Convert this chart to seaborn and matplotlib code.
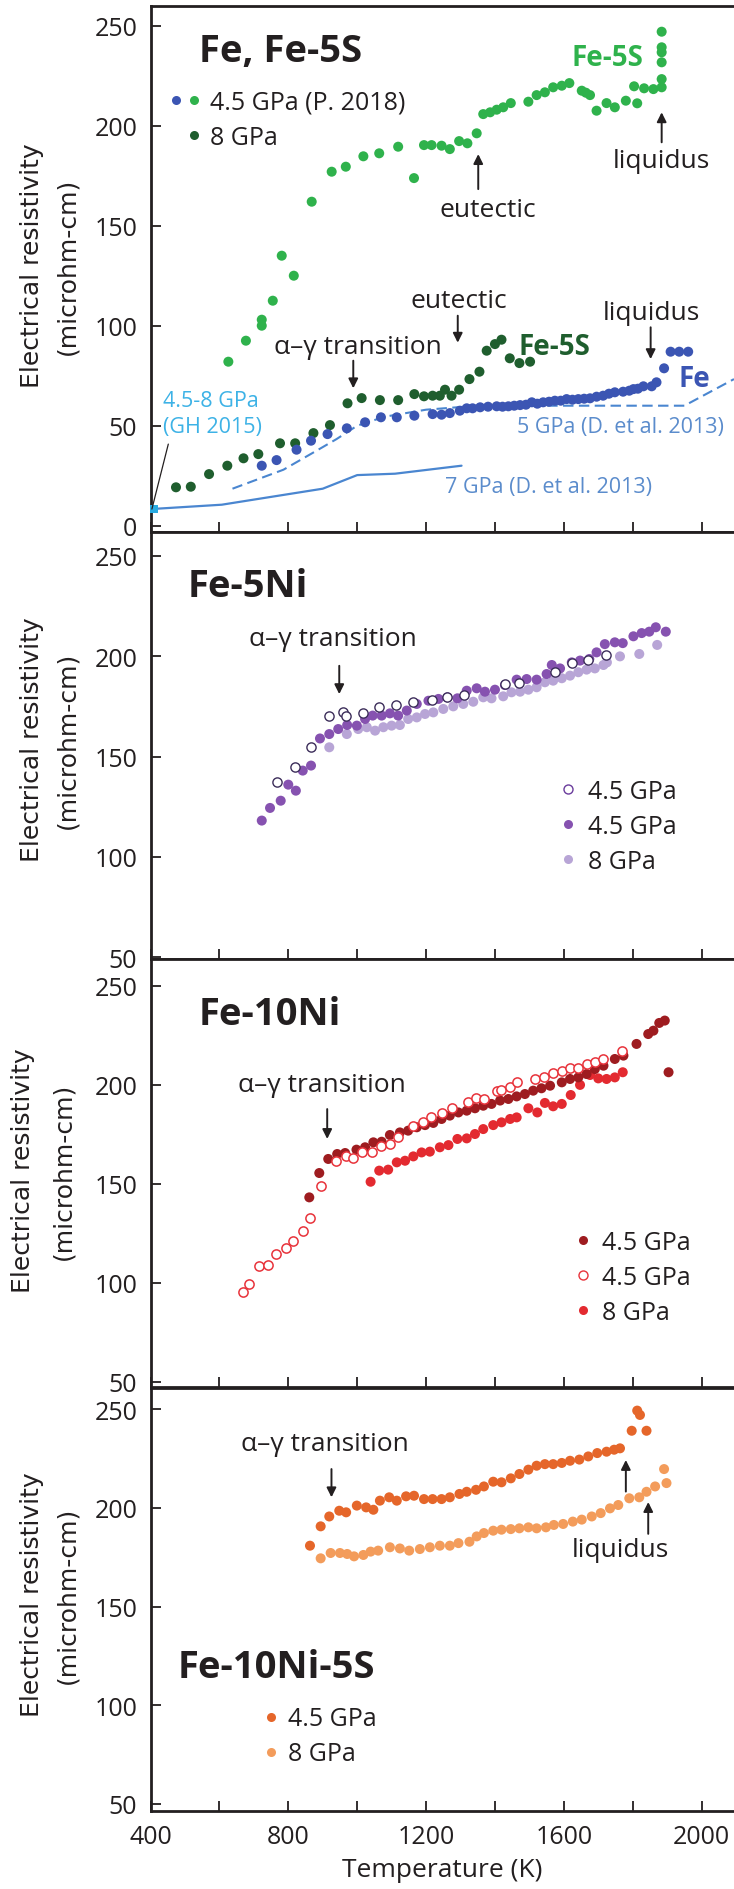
import matplotlib
matplotlib.use("Agg")
import matplotlib.pyplot as plt
import seaborn as sns
from matplotlib.lines import Line2D
from matplotlib.legend_handler import HandlerTuple

# ---------------- data (temperature in K, resistivity in microhm-cm) ----------------
# Panel 1: Fe, Fe-5S
fe5s_45_T = [626, 677, 723, 723, 755, 781, 816, 868, 926, 967, 1018, 1064, 1119, 1165, 1194, 1216, 1245, 1269,
             1296, 1320, 1347, 1366, 1386, 1405, 1424, 1446, 1497, 1521, 1545, 1569, 1594, 1616, 1652, 1664,
             1676, 1695, 1724, 1748, 1780, 1804, 1813, 1833, 1860, 1884, 1884, 1884, 1884, 1884, 1884]
fe5s_45_R = [82, 92.5, 100, 103, 112.5, 135, 125, 162, 177, 179.5, 184.7, 186.2, 189.5, 173.8, 190.3, 190.3,
             190, 188.3, 192.3, 191.2, 196.2, 205.8, 206.7, 208, 209.2, 211.3, 212, 215.3, 216.7, 219.2, 220,
             221.3, 217.5, 216.5, 215.3, 207.5, 211.3, 209.2, 212.5, 219.7, 211.2, 218.7, 218.3, 219.2, 223.3,
             231.7, 236.7, 239.2, 247]
fe5s_8_T = [474, 517, 570, 623, 670, 713, 776, 820, 873, 921, 972, 1013, 1066, 1119, 1166, 1194, 1219, 1240,
            1255, 1274, 1296, 1326, 1355, 1376, 1400, 1419, 1443, 1471, 1502]
fe5s_8_R = [19.2, 19.5, 25.8, 30, 33.7, 35.8, 41.2, 41.2, 46.3, 50.3, 61.2, 63.8, 62.8, 62.8, 65.8, 64.7, 65,
            65, 68, 65, 68, 73.3, 77, 87.5, 90.8, 93, 83.7, 81.3, 82]
fe_45_T = [723, 766, 824, 866, 914, 970, 1023, 1069, 1115, 1166, 1219, 1245, 1269, 1298, 1318, 1335, 1357,
           1380, 1405, 1422, 1439, 1456, 1473, 1490, 1507, 1523, 1540, 1557, 1574, 1591, 1608, 1625, 1642,
           1659, 1676, 1695, 1714, 1731, 1748, 1772, 1790, 1802, 1815, 1831, 1855, 1869, 1891, 1910, 1935, 1961]
fe_45_R = [30, 32.8, 38, 42.5, 45.8, 48.7, 51.7, 54.2, 54.2, 55, 55.8, 55.5, 56.3, 57.5, 58.7, 58.7, 59.2,
           59.5, 59.7, 59.5, 59.7, 60, 60.3, 60.5, 61.7, 61, 61.7, 62, 62.5, 62.5, 63.3, 63, 63.3, 63.5, 63.7,
           64.5, 65, 66, 66.7, 67, 67.5, 68.3, 68.5, 69.7, 69.7, 71.7, 78.7, 87, 87, 87]
d5_T = [638, 786, 882, 940, 1000, 1080, 1200, 1350, 1950, 2094]
d5_R = [18.5, 28, 37.5, 43.3, 50, 54.5, 58, 60, 60, 73.3]
d7_T = [400, 607, 680, 900, 1000, 1110, 1303]
d7_R = [8.3, 10.5, 12.5, 18.5, 25.3, 26, 30]
gh_T = [410]
gh_R = [8.3]

# Panel 2: Fe-5Ni
fe5ni_45f_T = [723, 747, 778, 800, 822, 842, 866, 892, 919, 945, 971, 999, 1023, 1045, 1071, 1095, 1119, 1144,
               1173, 1207, 1236, 1262, 1291, 1318, 1347, 1371, 1400, 1429, 1463, 1492, 1521, 1550, 1565, 1589,
               1623, 1647, 1674, 1695, 1719, 1748, 1771, 1802, 1826, 1848, 1867, 1896]
fe5ni_45f_R = [118.1, 124.4, 128, 136, 133, 143, 145.5, 159, 161.2, 163.7, 165.7, 165.4, 168.7, 170.4, 170.4,
               171.5, 170.4, 172.9, 176.2, 177.8, 178.7, 179.5, 179, 182.8, 184, 182.3, 183.3, 185.6, 188.3,
               188.6, 188.3, 191.1, 195.6, 193.9, 196.9, 197.8, 198.6, 201.9, 206, 206.9, 206.5, 209.9, 211.5,
               212.2, 214.4, 212.2]
fe5ni_45o_T = [766, 820, 865, 919, 960, 968, 1016, 1064, 1113, 1163, 1216, 1262, 1310, 1429, 1471, 1574, 1623,
               1671, 1721]
fe5ni_45o_R = [137.2, 144.6, 154.6, 170.4, 172, 170.4, 171.5, 174.5, 175.7, 177, 178.2, 179.5, 180.6, 186.1,
               186.6, 192.3, 196.6, 198.3, 200.6]
fe5ni_8_T = [919, 970, 1003, 1028, 1052, 1076, 1100, 1124, 1148, 1173, 1197, 1221, 1250, 1279, 1308, 1337, 1366,
             1390, 1424, 1448, 1473, 1497, 1521, 1545, 1569, 1594, 1618, 1642, 1666, 1690, 1715, 1725, 1763,
             1819, 1871]
fe5ni_8_R = [154.6, 161.2, 163.7, 164.6, 162.9, 164.6, 165.4, 165.7, 168.7, 169.5, 171.2, 172, 173.7, 175,
             176.2, 177.3, 179.5, 179, 180, 182, 182.3, 183.3, 184.5, 187, 187.8, 189, 190.3, 192, 193.3, 193.9,
             195.6, 196.9, 199.9, 201.1, 205.6]

# Panel 3: Fe-10Ni
fe10ni_45o_T = [669, 687, 716, 742, 764, 793, 815, 842, 863, 895, 938, 967, 989, 1013, 1042, 1068, 1095, 1119,
                1163, 1192, 1213, 1245, 1274, 1323, 1345, 1368, 1405, 1419, 1445, 1465, 1516, 1542, 1569, 1594,
                1618, 1642, 1666, 1690, 1713, 1768]
fe10ni_45o_R = [95.5, 99.3, 108.2, 108.9, 114.5, 117.3, 121.2, 125.9, 132.5, 149, 161.6, 164.2, 162.8, 165.8,
                166.2, 169.2, 170, 173.4, 179, 181, 183.5, 185.7, 188.1, 191.4, 193.1, 192.8, 197, 197.5, 198.7,
                201.2, 202.9, 203.7, 205.9, 207.1, 208.3, 208.3, 210.5, 211.3, 213, 217.2]
fe10ni_45f_T = [861, 890, 916, 942, 965, 998, 1023, 1047, 1071, 1095, 1124, 1148, 1173, 1197, 1221, 1245, 1269,
                1294, 1318, 1342, 1366, 1390, 1415, 1439, 1463, 1487, 1511, 1535, 1560, 1594, 1618, 1642, 1666,
                1690, 1715, 1748, 1773, 1811, 1845, 1860, 1877, 1893, 1904]
fe10ni_45f_R = [143.1, 155.4, 162.5, 165, 165.5, 167.2, 168.4, 170.9, 171.2, 174.6, 175.9, 176.8, 178.5, 179.6,
                180.7, 182.7, 184.4, 186, 186.9, 188.1, 189.4, 190.3, 192, 192.8, 194.1, 195.3, 197, 198.2,
                199.5, 201.2, 202.9, 203.7, 205.4, 207.9, 209.6, 213, 214.7, 220.6, 225.6, 227.3, 231.2, 232.4,
                206.3]
fe10ni_8_T = [1039, 1064, 1090, 1115, 1139, 1163, 1187, 1211, 1240, 1265, 1291, 1318, 1342, 1366, 1395, 1419,
              1444, 1463, 1497, 1523, 1545, 1569, 1594, 1620, 1647, 1676, 1700, 1724, 1748, 1771]
fe10ni_8_R = [151, 156.6, 157.1, 160.8, 161.6, 163.8, 165.8, 166.2, 168.4, 169.5, 172.6, 172.9, 175.1, 177.6,
              179.6, 181, 182.7, 183.5, 188.1, 186, 190.8, 189.1, 190.3, 194.8, 199.9, 204.9, 203.2, 202.9,
              203.7, 206.3]

# Panel 4: Fe-10Ni-5S
fe10ni5s_45_T = [863, 894, 919, 948, 968, 999, 1026, 1047, 1066, 1093, 1115, 1142, 1165, 1194, 1219, 1245, 1269,
                 1297, 1318, 1345, 1368, 1395, 1419, 1446, 1471, 1497, 1521, 1545, 1569, 1594, 1618, 1645, 1671,
                 1697, 1724, 1746, 1763, 1797, 1813, 1821, 1840]
fe10ni5s_45_R = [180.8, 190.6, 195.6, 198.5, 197.7, 201.1, 200.2, 199, 203.6, 205.3, 203.6, 205.8, 206.1, 204.4,
                 204.4, 204.4, 205.3, 207, 208.1, 209.1, 210.8, 213.2, 212.9, 214.9, 217.1, 219.3, 221.3, 222.1,
                 222.1, 222.7, 223.8, 224.4, 226, 227.7, 228.4, 229.4, 230.1, 239, 249.2, 247, 239]
fe10ni5s_8_T = [894, 923, 950, 971, 991, 1018, 1039, 1061, 1095, 1124, 1151, 1182, 1211, 1240, 1269, 1294, 1326,
                1347, 1368, 1395, 1419, 1446, 1471, 1497, 1521, 1548, 1571, 1598, 1626, 1652, 1681, 1707, 1734,
                1758, 1790, 1819, 1840, 1865, 1898, 1891]
fe10ni5s_8_R = [174.4, 177.1, 177.1, 176.6, 175.4, 176.1, 177.8, 178.3, 180, 179.4, 178.3, 179.1, 180, 180.8,
                180.8, 182.1, 182.8, 185.5, 187.2, 188.4, 188.9, 189.2, 189.6, 190.1, 189.6, 190.1, 191.3, 191.8,
                193, 194, 195.6, 197.3, 199.7, 201.4, 204.8, 205.3, 208.1, 210.8, 212.5, 219.6]

x_ticks = [400, 600, 800, 1000, 1200, 1400, 1600, 1800, 2000]
x_ticklabels = ["400", "", "800", "", "1200", "", "1600", "", "2000"]
y_ticks_top = [0, 50, 100, 150, 200, 250]
y_ticks = [50, 100, 150, 200, 250]

# ---------------- styling ----------------
sns.set_theme(style="white")
plt.rcParams["font.family"] = ["Open Sans", "DejaVu Sans"]
plt.rcParams["axes.unicode_minus"] = False

INK = "#231f20"
C_GREEN, C_DKGREEN, C_BLUE = "#2fb24c", "#1f5e2e", "#3b55b3"
C_DLINE, C_DTEXT, C_CYAN = "#4a86d0", "#5b8ccc", "#3db2e6"
C_PURP, C_LPURP, C_OPURP = "#8652b0", "#b8a5d6", "#3c2d5a"
C_DRED, C_RED, C_ORED = "#9e1c20", "#e32a30", "#e8333b"
C_DORG, C_LORG = "#e5662a", "#f39c5b"
S = 52

W, H = 734, 1890
fig = plt.figure(figsize=(W / 100, H / 100), dpi=100)
fig.patch.set_facecolor("white")


def add_axes(top_px, bottom_px):
    return fig.add_axes([150.5 / W, 1 - bottom_px / H, (W - 150.5) / W, (bottom_px - top_px) / H])


ax1 = add_axes(7.3, 532.7)
ax2 = add_axes(532.7, 960)
ax3 = add_axes(960, 1387.7)
ax4 = add_axes(1389.3, 1811.7)


def style(ax, ylim, yticks, xlabels):
    ax.set_xlim(400, 2094)
    ax.set_ylim(*ylim)
    ax.set_yticks(yticks)
    ax.set_xticks(x_ticks)
    ax.set_xticklabels(x_ticklabels)
    ax.tick_params(axis="both", direction="in", length=7, width=1.3, color=INK,
                   labelsize=18, labelcolor=INK, pad=9.5)
    ax.tick_params(axis="x", labelbottom=xlabels, bottom=True)
    ax.tick_params(axis="y", left=True)
    for s in ("top", "bottom", "left"):
        ax.spines[s].set_linewidth(2.0)
        ax.spines[s].set_color(INK)
    ax.spines["right"].set_visible(False)
    ax.set_xlabel("")
    ax.set_ylabel("")
    ax.set_facecolor("white")


def dots(ax, T, R, color, edge="none", lw=0, z=3, s=S):
    sns.scatterplot(x=T, y=R, ax=ax, color=color, edgecolor=edge, linewidth=lw, s=s,
                    legend=False, zorder=z, clip_on=False)


def note(ax, s, x, y, size=19, color=INK, weight="normal", ha="center", va="baseline"):
    ax.text(x, y, s, fontsize=size, color=color, fontweight=weight, ha=ha, va=va, zorder=6)


def arrow(ax, x, y_from, y_to):
    ax.annotate("", xy=(x, y_to), xytext=(x, y_from),
                arrowprops=dict(arrowstyle="-|>", color=INK, lw=1.4, mutation_scale=14,
                                shrinkA=0, shrinkB=0), zorder=6)


def mk(color, edge=None, ms=6.5):
    return Line2D([], [], ls="none", marker="o", ms=ms, mfc=color,
                  mec=edge if edge else color, mew=1.0 if edge else 0)


# ---------------- panel 1 ----------------
style(ax1, (-3, 259.7), y_ticks_top, False)
sns.lineplot(x=d7_T, y=d7_R, ax=ax1, color=C_DLINE, lw=1.6, estimator=None, sort=False, zorder=2)
sns.lineplot(x=d5_T, y=d5_R, ax=ax1, color=C_DLINE, lw=1.5, estimator=None, sort=False, zorder=2,
             linestyle=(0, (5.0, 2.6)))
sns.scatterplot(x=gh_T, y=gh_R, ax=ax1, color="#29abe2", marker="s", s=40, edgecolor="none",
                legend=False, zorder=4, clip_on=False)
dots(ax1, fe5s_45_T, fe5s_45_R, C_GREEN)
dots(ax1, fe5s_8_T, fe5s_8_R, C_DKGREEN)
dots(ax1, fe_45_T, fe_45_R, C_BLUE)
ax1.plot([gh_T[0] - 6, 451.7], [gh_R[0], 40.8], color=INK, lw=0.9, zorder=5)

note(ax1, "Fe, Fe-5S", 540.8, 232.5, size=27.5, weight="bold", ha="left")
note(ax1, "Fe-5S", 1622.6, 230.5, size=20, color=C_GREEN, weight="bold", ha="left")
note(ax1, "eutectic", 1380.6, 154.7)
arrow(ax1, 1351.5, 168.3, 185.8)
note(ax1, "liquidus", 1882.7, 179.2)
arrow(ax1, 1884, 191.7, 206.7)
note(ax1, "α–γ transition", 1001.5, 86.3)
arrow(ax1, 988.7, 82.5, 68.7)
note(ax1, "eutectic", 1295.5, 109.5)
arrow(ax1, 1292, 105, 91.5)
note(ax1, "Fe-5S", 1467.6, 85.9, size=20, color=C_DKGREEN, weight="bold", ha="left")
note(ax1, "liquidus", 1852.8, 103.3)
arrow(ax1, 1852, 99.2, 83.3)
note(ax1, "Fe", 1932, 69.7, size=20, color=C_BLUE, weight="bold", ha="left")
note(ax1, "5 GPa (D. et al. 2013)", 1465, 46.7, size=15.5, color=C_DTEXT, ha="left")
note(ax1, "7 GPa (D. et al. 2013)", 1255, 17, size=15.5, color=C_DTEXT, ha="left")
note(ax1, "4.5-8 GPa", 437, 59.7, size=15.5, color=C_CYAN, ha="left")
note(ax1, "(GH 2015)", 437, 46.7, size=15.5, color=C_CYAN, ha="left")

blank = Line2D([], [], ls="none", marker=None)
ax1.legend([(mk(C_BLUE), mk(C_GREEN)), (blank, mk(C_DKGREEN))], ["4.5 GPa (P. 2018)", "8 GPa"],
           handler_map={tuple: HandlerTuple(ndivide=None, pad=0)}, loc="upper left",
           bbox_to_anchor=(0.027, 0.841), frameon=False, fontsize=18, labelcolor=INK,
           handlelength=1.5, handletextpad=0.24, labelspacing=0.4, borderpad=0, borderaxespad=0)

# ---------------- panel 2 ----------------
style(ax2, (49.15, 262), y_ticks, False)
dots(ax2, fe5ni_8_T, fe5ni_8_R, C_LPURP)
dots(ax2, fe5ni_45f_T, fe5ni_45f_R, C_PURP, z=4)
dots(ax2, fe5ni_45o_T, fe5ni_45o_R, "white", edge=C_OPURP, lw=1.0, z=5, s=44)
note(ax2, "Fe-5Ni", 506.8, 230.1, size=27.5, weight="bold", ha="left")
note(ax2, "α–γ transition", 930.6, 205.5)
arrow(ax2, 948, 195.2, 181.1)
ax2.legend([mk("white", edge="#6a3c9c"), mk(C_PURP), mk(C_LPURP)], ["4.5 GPa", "4.5 GPa", "8 GPa"],
           loc="upper left", bbox_to_anchor=(0.699, 0.4208), frameon=False, fontsize=18,
           labelcolor=INK, handlelength=0.8, handletextpad=0.4, labelspacing=0.4, borderpad=0,
           borderaxespad=0)

# ---------------- panel 3 ----------------
style(ax3, (47.47, 263.5), y_ticks, False)
dots(ax3, fe10ni_8_T, fe10ni_8_R, C_RED)
dots(ax3, fe10ni_45f_T, fe10ni_45f_R, C_DRED, z=4)
dots(ax3, fe10ni_45o_T, fe10ni_45o_R, "white", edge=C_ORED, lw=1.1, z=5, s=44)
note(ax3, "Fe-10Ni", 540.8, 230.7, size=27.5, weight="bold", ha="left")
note(ax3, "α–γ transition", 897, 197)
arrow(ax3, 913, 187.7, 172.6)
ax3.legend([mk(C_DRED), mk("white", edge=C_ORED), mk(C_RED)], ["4.5 GPa", "4.5 GPa", "8 GPa"],
           loc="upper left", bbox_to_anchor=(0.7237, 0.3675), frameon=False, fontsize=18,
           labelcolor=INK, handlelength=0.8, handletextpad=0.36, labelspacing=0.4, borderpad=0,
           borderaxespad=0)

# ---------------- panel 4 ----------------
style(ax4, (46.6, 260.5), y_ticks, True)
dots(ax4, fe10ni5s_8_T, fe10ni5s_8_R, C_LORG)
dots(ax4, fe10ni5s_45_T, fe10ni5s_45_R, C_DORG, z=4)
note(ax4, "Fe-10Ni-5S", 479.8, 114.2, size=27.5, weight="bold", ha="left")
note(ax4, "α–γ transition", 906.2, 229.4)
arrow(ax4, 925.4, 219.6, 205.3)
note(ax4, "liquidus", 1762.8, 175.7)
arrow(ax4, 1780, 208.2, 224.2)
arrow(ax4, 1845, 186.8, 202.9)
ax4.legend([mk(C_DORG), mk(C_LORG)], ["4.5 GPa", "8 GPa"], loc="upper left",
           bbox_to_anchor=(0.190, 0.2467), frameon=False, fontsize=18, labelcolor=INK,
           handlelength=0.8, handletextpad=0.26, labelspacing=0.4, borderpad=0, borderaxespad=0)
ax4.set_xlabel("Temperature (K)", fontsize=19, color=INK, labelpad=6)

# ---------------- y labels ----------------
for c1, c2, cy in [(31.6, 67.3, 266), (31.6, 67.3, 740), (23.4, 63.2, 1171), (31.6, 67.3, 1595)]:
    fig.text(c1 / W, 1 - cy / H, "Electrical resistivity", rotation=90, ha="center", va="center",
             fontsize=18, family="DejaVu Sans", color=INK)
    fig.text(c2 / W, 1 - cy / H, "(microhm-cm)", rotation=90, ha="center", va="center",
             fontsize=18, family="DejaVu Sans", color=INK)

fig.savefig("out.png", dpi=100, facecolor="white")
